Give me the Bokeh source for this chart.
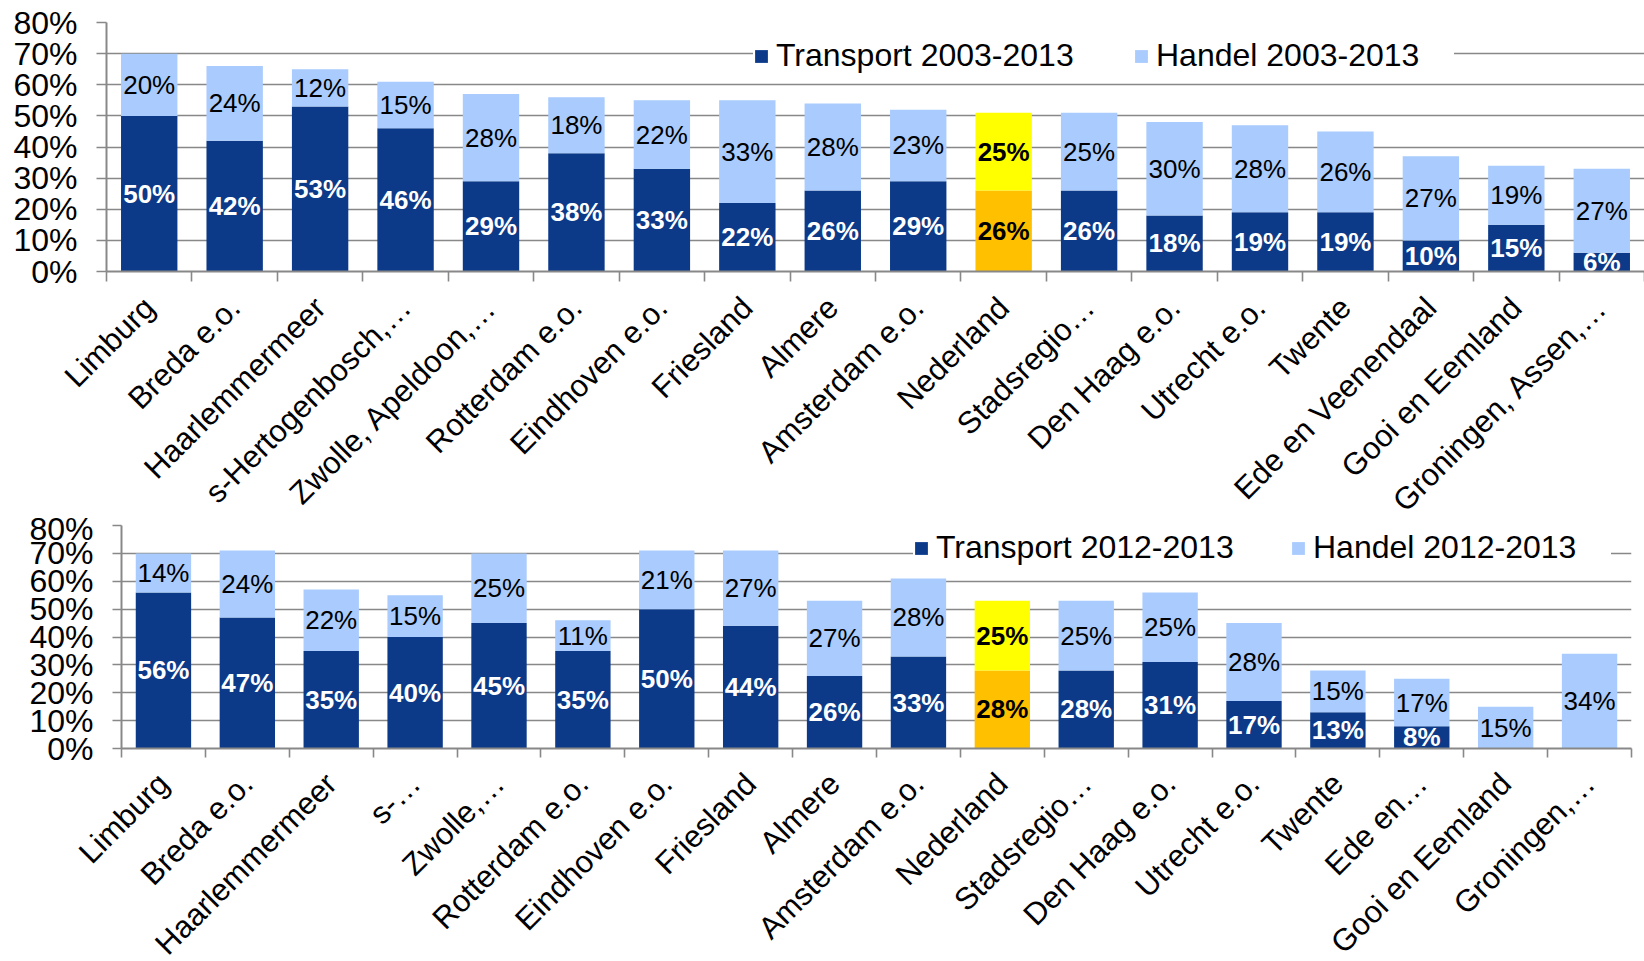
import math
import numpy as np
from bokeh.plotting import figure
from bokeh.models import (ColumnDataSource, Range1d, FixedTicker, PrintfTickFormatter,
                          Legend, LegendItem)
from bokeh.embed import file_html
from bokeh.resources import INLINE
from bokeh.core.properties import field, value

FONT = "Liberation Sans"
DARK = "#0C3A89"
LIGHT = "#A9CBFD"
HL_DARK = "#FFC000"
HL_LIGHT = "#FFFF00"
GRID = "#888888"

# ---------------- data ----------------
regions_top = ["Limburg", "Breda e.o.", "Haarlemmermeer", "s-Hertogenbosch,…",
               "Zwolle, Apeldoon,…", "Rotterdam e.o.", "Eindhoven e.o.", "Friesland",
               "Almere", "Amsterdam e.o.", "Nederland", "Stadsregio…", "Den Haag e.o.",
               "Utrecht e.o.", "Twente", "Ede en Veenendaal", "Gooi en Eemland",
               "Groningen, Assen,…"]
transport_2003_2013 = [50, 42, 53, 46, 29, 38, 33, 22, 26, 29, 26, 26, 18, 19, 19, 10, 15, 6]
handel_2003_2013 = [20, 24, 12, 15, 28, 18, 22, 33, 28, 23, 25, 25, 30, 28, 26, 27, 19, 27]

regions_bottom = ["Limburg", "Breda e.o.", "Haarlemmermeer", "s-…", "Zwolle,…",
                  "Rotterdam e.o.", "Eindhoven e.o.", "Friesland", "Almere",
                  "Amsterdam e.o.", "Nederland", "Stadsregio…", "Den Haag e.o.",
                  "Utrecht e.o.", "Twente", "Ede en…", "Gooi en Eemland", "Groningen,…"]
transport_2012_2013 = [56, 47, 35, 40, 45, 35, 50, 44, 26, 33, 28, 28, 31, 17, 13, 8, 0, 0]
handel_2012_2013 = [14, 24, 22, 15, 25, 11, 21, 27, 27, 28, 25, 25, 25, 28, 15, 17, 15, 34]

legend_top = ["Transport 2003-2013", "Handel 2003-2013"]
legend_bottom = ["Transport 2012-2013", "Handel 2012-2013"]

highlight = "Nederland"
y_ticks = [0, 10, 20, 30, 40, 50, 60, 70, 80]


def make_chart(regions, transport, handel, width, height, borders, tick_len,
               legend_labels, legend_loc, legend_spacing, margin=None):
    n = len(regions)
    xs = list(range(n))
    hl = [r == highlight for r in regions]
    t = np.array(transport, dtype=float)
    h = np.array(handel, dtype=float)

    src = ColumnDataSource(dict(
        x=xs, t=t, top=t + h,
        tcol=[HL_DARK if f else DARK for f in hl],
        hcol=[HL_LIGHT if f else LIGHT for f in hl],
    ))

    kw = {}
    if margin is not None:
        kw["margin"] = margin
    p = figure(width=width, height=height, output_backend="svg", toolbar_location=None,
               x_range=Range1d(-0.5, n - 0.5), y_range=Range1d(0, 80),
               min_border_left=borders[0], min_border_right=borders[1],
               min_border_top=borders[2], min_border_bottom=borders[3], **kw)
    p.outline_line_color = None
    p.background_fill_color = "white"
    p.border_fill_color = "white"

    r_t = p.vbar(x="x", bottom=0, top="t", width=0.66, fill_color="tcol",
                 line_color=None, source=src)
    r_h = p.vbar(x="x", bottom="t", top="top", width=0.66, fill_color="hcol",
                 line_color=None, source=src)

    # value labels in the middle of each segment
    lx, ly, lt, lc, ls = [], [], [], [], []
    for i in range(n):
        if t[i] > 0:
            lx.append(xs[i]); ly.append(t[i] / 2); lt.append(f"{int(t[i])}%")
            lc.append("black" if hl[i] else "white"); ls.append("bold")
        if h[i] > 0:
            lx.append(xs[i]); ly.append(t[i] + h[i] / 2); lt.append(f"{int(h[i])}%")
            lc.append("black"); ls.append("bold" if hl[i] else "normal")
    lsrc = ColumnDataSource(dict(x=lx, y=ly, text=lt, color=lc, style=ls))
    p.text(x="x", y="y", text="text", source=lsrc, text_color="color",
           text_font_style=field("style"), text_font=value(FONT),
           text_font_size="26px", text_align="center", text_baseline="middle")

    # grid / axes
    p.xgrid.visible = False
    p.ygrid.grid_line_color = GRID
    p.ygrid.grid_line_width = 1.6
    p.ygrid.ticker = FixedTicker(ticks=y_ticks)

    ya = p.yaxis[0]
    ya.ticker = FixedTicker(ticks=y_ticks)
    ya.formatter = PrintfTickFormatter(format="%d%%")
    ya.axis_line_color = GRID
    ya.axis_line_width = 2
    ya.major_tick_line_color = GRID
    ya.major_tick_line_width = 1.6
    ya.major_tick_out = tick_len
    ya.major_tick_in = 0
    ya.minor_tick_out = 0
    ya.minor_tick_in = 0
    ya.major_label_text_font = FONT
    ya.major_label_text_font_size = "32px"
    ya.major_label_text_color = "black"
    ya.major_label_standoff = 19

    xa = p.xaxis[0]
    xa.ticker = FixedTicker(ticks=xs, minor_ticks=[i - 0.5 for i in range(n + 1)])
    xa.major_label_overrides = {i: regions[i] for i in range(n)}
    xa.axis_line_color = GRID
    xa.axis_line_width = 2
    xa.major_tick_out = 0
    xa.major_tick_in = 0
    xa.minor_tick_out = tick_len
    xa.minor_tick_in = 0
    xa.minor_tick_line_color = GRID
    xa.minor_tick_line_width = 1.6
    xa.major_label_orientation = math.pi / 4
    xa.major_label_standoff = 21
    xa.major_label_text_font = FONT
    xa.major_label_text_font_size = "31px"
    xa.major_label_text_color = "black"

    leg = Legend(items=[LegendItem(label=legend_labels[0], renderers=[r_t], index=0),
                        LegendItem(label=legend_labels[1], renderers=[r_h], index=0)],
                 orientation="horizontal", location=legend_loc, padding=20,
                 spacing=legend_spacing, glyph_width=16, glyph_height=16,
                 label_standoff=7, label_width=298,
                 label_text_font=FONT, label_text_font_size="32px",
                 label_text_color="black", border_line_color=None,
                 background_fill_color="white", background_fill_alpha=1.0, margin=0)
    p.add_layout(leg)
    return p


top = make_chart(regions_top, transport_2003_2013, handel_2003_2013,
                 1644, 534, (106, 0, 22, 263), 10, legend_top, (647, 197), 59)
bottom = make_chart(regions_bottom, transport_2012_2013, handel_2012_2013,
                    1644, 480, (121, 13, 15, 242), 9, legend_bottom, (792, 182), 56,
                    margin=(-24, 0, 0, 0))

open("out.html", "w").write(file_html([top, bottom], INLINE))
